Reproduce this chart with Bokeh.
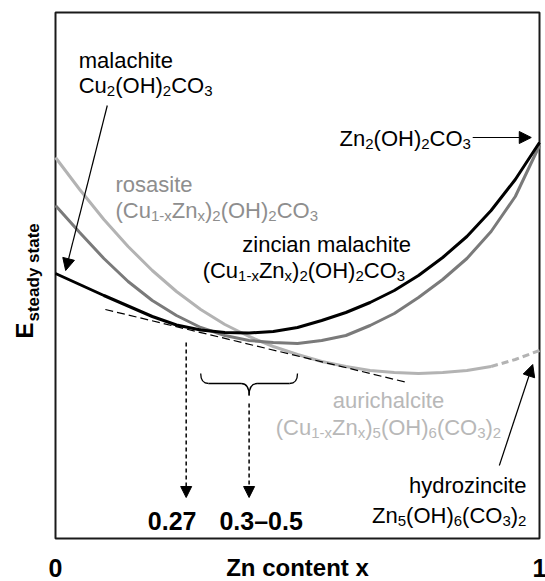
import math
import re

from bokeh.embed import file_html
from bokeh.models import Arrow, Label, NormalHead, Range1d
from bokeh.plotting import figure
from bokeh.resources import INLINE

# Zn content x at which the free-energy curves are sampled
zn_content = [0.00, 0.05, 0.10, 0.15, 0.20, 0.25, 0.30, 0.35, 0.40, 0.45, 0.50,
              0.55, 0.60, 0.65, 0.70, 0.75, 0.80, 0.85, 0.90, 0.95, 1.00]

# steady-state energy (arbitrary units) of each phase along x
e_zincian_malachite = [265, 254, 243, 232.5, 222, 213.5, 208.5, 206, 205.5, 207, 211,
                       218, 226, 236, 248, 263, 281, 302, 328, 359, 396]
e_rosasite = [333, 306, 280, 257, 238, 223, 211, 203, 198, 196, 195,
              198, 203, 213, 225, 241, 259, 280, 307, 342, 393]
e_aurichalcite = [381, 349, 319, 292, 268, 247, 229, 214, 202, 192, 184,
                  177, 172, 168, 166, 165, 166, 168, 172, 179, 188]
# aurichalcite is drawn dashed beyond this Zn content (towards hydrozincite)
aurichalcite_dashed_from = 0.90

# common tangent
tangent_x = [0.103, 0.727]
tangent_e = [229, 156]

# marked compositions
x_common_tangent = 0.27
x_range_low, x_range_high = 0.3, 0.5

# extent of the framed diagram
x_min, x_max = 0.0, 1.0
e_min, e_max = 0.0, 526.0

BLACK = "#000000"
DARK = "#7a7a7a"
LIGHT = "#b3b3b3"
ROSASITE_TEXT = "#8e8e8e"
AURI_TEXT = "#b8b8b8"
FONT = "Liberation Sans"
# Bokeh places the alphabetic baseline a few pixels low; lift the texts back
BASE_LIFT = 8

# Arial / Liberation Sans advance widths (1/1000 em) used to lay out subscripts
ADV = {'a': 556, 'b': 556, 'c': 500, 'd': 556, 'e': 556, 'h': 556, 'i': 222,
       'l': 222, 'm': 833, 'n': 556, 'o': 556, 'r': 333, 's': 500, 't': 278,
       'u': 556, 'x': 500, 'y': 500, 'z': 500, ' ': 278, '(': 333, ')': 333,
       '-': 333, 'C': 722, 'O': 778, 'H': 722, 'Z': 611, 'E': 667}
for d in "0123456789":
    ADV[d] = 556

# the canvas extends beyond the framed diagram to hold the axis texts
p = figure(width=545, height=581,
           x_range=Range1d(-55 / 484, 490 / 484), y_range=Range1d(-43, 538),
           x_axis_type=None, y_axis_type=None, output_backend="svg",
           toolbar_location=None, min_border=0)
p.grid.visible = False
p.outline_line_color = None
p.background_fill_color = "white"
p.border_fill_color = "white"

# frame of the diagram
p.quad(left=[x_min], right=[x_max], bottom=[e_min], top=[e_max],
       fill_color=None, line_color="#1a1a1a", line_width=2)

# curves
aur_solid_x = [x for x in zn_content if x <= aurichalcite_dashed_from]
aur_solid_e = [e for x, e in zip(zn_content, e_aurichalcite) if x <= aurichalcite_dashed_from]
aur_dash_x = [x for x in zn_content if x >= aurichalcite_dashed_from]
aur_dash_e = [e for x, e in zip(zn_content, e_aurichalcite) if x >= aurichalcite_dashed_from]
p.line(aur_solid_x, aur_solid_e, line_color=LIGHT, line_width=3)
p.line(aur_dash_x, aur_dash_e, line_color=LIGHT, line_width=3, line_dash="7 4")
p.line(zn_content, e_rosasite, line_color=DARK, line_width=3)
p.line(zn_content, e_zincian_malachite, line_color=BLACK, line_width=3)

# common tangent
p.line(tangent_x, tangent_e, line_color=BLACK, line_width=1.2, line_dash="8 4")

# curly brace spanning the 0.3-0.5 range
r = 0.0165
b_top, b_mid, b_tip = 165, 155, 143
xm = (x_range_low + x_range_high) / 2
p.quadratic(x0=[x_range_low, xm - r, xm, x_range_high - r],
            y0=[b_top, b_mid, b_tip, b_mid],
            x1=[x_range_low + r, xm, xm + r, x_range_high],
            y1=[b_mid, b_tip, b_mid, b_top],
            cx=[x_range_low, xm, xm, x_range_high],
            cy=[b_mid, b_mid, b_mid, b_mid],
            line_color=BLACK, line_width=1.3)
p.segment(x0=[x_range_low + r, xm + r], y0=[b_mid, b_mid],
          x1=[xm - r, x_range_high - r], y1=[b_mid, b_mid],
          line_color=BLACK, line_width=1.3)


def head(size=11):
    return NormalHead(size=size, fill_color=BLACK, line_color=BLACK, line_width=1)


# dashed arrows down to the marked compositions
p.add_layout(Arrow(end=head(), x_start=x_common_tangent, y_start=196,
                   x_end=x_common_tangent, y_end=41, line_dash="4 3", line_width=1.5))
p.add_layout(Arrow(end=head(), x_start=xm, y_start=135, x_end=xm, y_end=41,
                   line_dash="4 3", line_width=1.5))

# pointer arrows to the end members
p.add_layout(Arrow(end=head(12), x_start=0.107, y_start=433, x_end=0.021, y_end=268,
                   line_width=1.2))
p.add_layout(Arrow(end=head(12), x_start=0.862, y_start=401, x_end=0.983, y_end=401,
                   line_width=1.2))
p.add_layout(Arrow(end=head(12), x_start=0.917, y_start=73, x_end=0.986, y_end=174,
                   line_width=1.2))


def runs_of(markup):
    parts = re.split(r"_\{([^}]*)\}", markup)
    return [(t, i % 2 == 1) for i, t in enumerate(parts) if t]


def width_of(text, size):
    return sum(ADV.get(c, 556) for c in text) * size / 1000.0


def rich(x, y, markup, color=BLACK, size=22, sub=15, drop=5, align="left"):
    runs = runs_of(markup)
    widths = [width_of(t, sub if s else size) for t, s in runs]
    total = sum(widths)
    off = {"left": 0.0, "center": -total / 2, "right": -total}[align]
    for (t, s), w in zip(runs, widths):
        p.add_layout(Label(x=x, y=y, x_offset=off,
                           y_offset=BASE_LIFT - (drop if s else 0), text=t,
                           text_font=FONT, text_font_size=f"{sub if s else size}px",
                           text_color=color, text_align="left",
                           text_baseline="alphabetic"))
        off += w


rich(0.048, 470, "malachite")
rich(0.048, 445, "Cu_{2}(OH)_{2}CO_{3}")
rich(0.124, 346, "rosasite", color=ROSASITE_TEXT)
rich(0.124, 320, "(Cu_{1-x}Zn_{x})_{2}(OH)_{2}CO_{3}", color=ROSASITE_TEXT)
rich(0.386, 286, "zincian malachite")
rich(0.304, 260, "(Cu_{1-x}Zn_{x})_{2}(OH)_{2}CO_{3}")
rich(0.587, 392, "Zn_{2}(OH)_{2}CO_{3}")
rich(0.688, 130, "aurichalcite", color=AURI_TEXT, align="center")
rich(0.688, 103, "(Cu_{1-x}Zn_{x})_{5}(OH)_{6}(CO_{3})_{2}", color=AURI_TEXT, align="center")
rich(0.973, 45, "hydrozincite", align="right")
rich(0.973, 15, "Zn_{5}(OH)_{6}(CO_{3})_{2}", align="right")


def bold(x, y, text, size=25, align="center", x_offset=0, angle=0.0):
    if angle:
        dx, dy = -BASE_LIFT, 0
    else:
        dx, dy = 0, BASE_LIFT
    p.add_layout(Label(x=x, y=y, x_offset=x_offset + dx, y_offset=dy, text=text,
                       angle=angle, text_font=FONT, text_font_style="bold",
                       text_font_size=f"{size}px", text_color=BLACK,
                       text_align=align, text_baseline="alphabetic"))


# value labels under the dashed arrows, spread apart so they do not collide
bold(x_common_tangent, 10, f"{x_common_tangent:.2f}", x_offset=-14)
bold(xm, 10, f"{x_range_low:g}\u2013{x_range_high:g}", x_offset=12)
bold(x_min, -37, f"{x_min:g}")
bold(x_max, -37, f"{x_max:g}")
bold((x_min + x_max) / 2, -37, "Zn content x", size=24)

# y-axis title E_steady state, written bottom-to-top
bold(-0.0475, 200, "E", size=24, align="left", angle=math.pi / 2)
bold(-0.029, 217, "steady state", size=17, align="left", angle=math.pi / 2)

open("out.html", "w").write(file_html(p, INLINE))
